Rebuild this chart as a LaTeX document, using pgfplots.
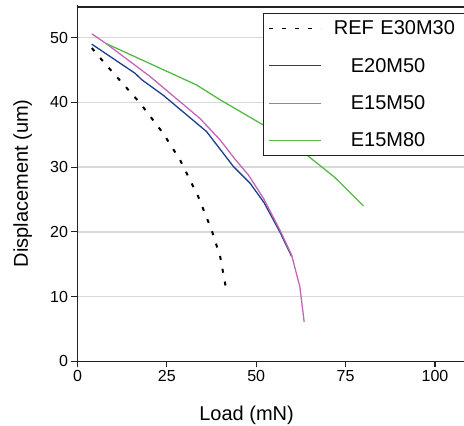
\documentclass[border=0pt]{standalone}
\usepackage{fontspec}
\setmainfont{Liberation Sans}
\usepackage{pgfplots}
\pgfplotsset{compat=1.18}
\definecolor{cblue}{HTML}{1C3F8C}
\definecolor{cmag}{HTML}{C366B8}
\definecolor{cgreen}{HTML}{55B947}
\definecolor{caxis}{HTML}{222222}
\begin{document}
\begin{tikzpicture}
\begin{axis}[
  name=ax,
  x=3.575bp, y=6.472bp,
  xmin=0, xmax=108, ymin=0, ymax=55,
  axis x line*=bottom, axis y line*=left,
  xtick={0,25,50,75,100}, ytick={0,10,20,30,40,50},
  xtick pos=bottom, ytick pos=left,
  tick align=outside, major tick length=6bp,
  tick style={caxis, line width=1.2bp},
  axis line style={caxis, line width=1.4bp, -},
  ymajorgrids, grid style={gray!30, line width=1.6bp},
  /pgf/number format/assume math mode=true,
  tick label style={font=\fontsize{16bp}{19bp}\selectfont},
  every axis x label/.style={at={(axis description cs:0.438,-0.165)}, anchor=base, font=\fontsize{20bp}{24bp}\selectfont},
  every axis y label/.style={at={(axis description cs:-0.1287,0.5)}, rotate=90, anchor=base, font=\fontsize{20bp}{24bp}\selectfont},
  xlabel={Load (mN)}, ylabel={Displacement (um)},
  legend style={at={(axis cs:51.9,53.8)}, anchor=north west, draw=caxis, line width=1.2bp, fill=white,
    font=\fontsize{20bp}{24bp}\selectfont, row sep=18bp, inner sep=5bp,
    text width=150bp, align=left},
  legend cell align=left,
  legend image code/.code={\draw[#1, line width=1.2bp] (0bp,0bp) -- (52bp,0bp);},
  clip=false,
]
\addplot[black, line width=2bp, dash pattern=on 4bp off 9bp] coordinates {
(4,48.4) (8,45.8) (13.8,42.2) (17.5,39.9) (24,35.2) (28.7,31.1) (33.8,25.4) (37.5,20.3) (39.9,16.2) (41.4,11.7)};
\addlegendentry{\hspace{10bp}REF E30M30}
\addplot[cblue, line width=1.3bp] coordinates {
(4,49.0) (16.1,44.5) (18,43.5) (24,41.1) (36.1,35.5) (43.6,30.1) (48.3,27.5) (52.2,24.5) (56.6,20.0) (59.9,16.2)};
\addlegendentry{\hspace{27bp}E20M50}
\addplot[cmag, line width=1.3bp] coordinates {
(4,50.6) (8,49.1) (20.3,44.0) (28.7,40.1) (34.3,37.5) (39.9,34.2) (44.1,31.2) (47.8,28.8) (52,25.2) (56.6,20.3) (59.9,16.4) (62.2,11.5) (63.4,6.1)};
\addlegendentry{\hspace{27bp}E15M50}
\addplot[cgreen, line width=1.3bp] coordinates {
(8,49.1) (33.3,42.7) (39.9,40.4) (52,36.5) (58,34.3) (64.1,31.9) (72,28.4) (80,24.0)};
\addlegendentry{\hspace{27bp}E15M80}
\draw[caxis, line width=2bp] (axis cs:-0.2,54.8) -- (axis cs:112,54.8);
\end{axis}
\pgfresetboundingbox
\path[use as bounding box] ([xshift=-77.5bp,yshift=-64.7bp]ax.south west) rectangle ++(464bp,426bp);
\end{tikzpicture}
\end{document}
